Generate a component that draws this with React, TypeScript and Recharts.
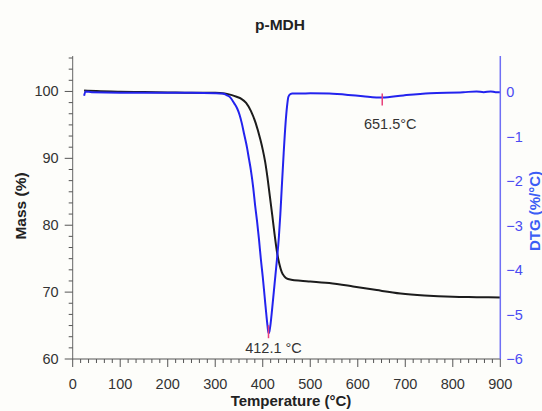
import { LineChart, Line, XAxis, YAxis, ReferenceDot } from 'recharts';

const massTemps = [24, 50, 100, 150, 200, 250, 300, 320, 335, 345, 355, 365, 375, 385, 395, 400, 405, 410, 415, 420, 425, 430, 435, 440, 445, 450, 460, 480, 500, 540, 590, 640, 690, 740, 800, 850, 900];
const massValues = [100.15, 100.05, 99.95, 99.9, 99.85, 99.8, 99.8, 99.7, 99.45, 99.2, 98.9, 98.3, 97.1, 95.3, 92.8, 91.3, 89.5, 87.1, 84.3, 81.5, 78.6, 76.0, 74.2, 73.0, 72.4, 72.05, 71.85, 71.7, 71.6, 71.35, 70.85, 70.3, 69.8, 69.5, 69.3, 69.25, 69.2];

const dtgTemps = [24, 27, 40, 100, 150, 200, 250, 300, 315, 325, 332, 340, 346, 351, 356, 361, 367, 371, 375, 380, 384, 388, 392, 396, 400, 404, 408, 410, 412.1, 414, 416, 420, 425, 430, 434, 437, 440, 444, 448, 451, 454, 458, 462, 480, 500, 540, 580, 611, 651.5, 696, 752, 822, 850, 865, 880, 890, 900];
const dtgValues = [-0.08, 0.02, 0.0, -0.01, -0.01, -0.01, -0.01, -0.02, -0.03, -0.07, -0.12, -0.25, -0.36, -0.5, -0.7, -0.95, -1.25, -1.5, -1.75, -2.15, -2.55, -2.9, -3.3, -3.75, -4.15, -4.6, -5.05, -5.25, -5.42, -5.38, -5.25, -4.85, -4.3, -3.75, -3.25, -2.75, -2.15, -1.38, -0.7, -0.33, -0.1, -0.04, -0.03, -0.03, -0.02, -0.03, -0.06, -0.09, -0.12, -0.07, -0.02, 0.0, 0.02, 0.0, 0.02, 0.0, 0.0];

const tempLabels = [0, 100, 200, 300, 400, 500, 600, 700, 800, 900];
const massLabels = [60, 70, 80, 90, 100];
const dtgLabels = [-6, -5, -4, -3, -2, -1, 0];

const peaks = [
  { t: 412.1, dtg: -5.42, label: '412.1 °C' },
  { t: 651.5, dtg: -0.12, label: '651.5°C' },
];
// #endregion

const massData = massTemps.map((t, i) => ({ t, mass: massValues[i] }));
const dtgData = dtgTemps.map((t, i) => ({ t, dtg: dtgValues[i] }));

// 5 minor ticks between each labelled tick
const tempTicks: number[] = [];
for (let i = 0; i <= 54; i++) tempTicks.push((i * 100) / 6);
const massTicks: number[] = [];
for (let i = 0; i <= 27; i++) massTicks.push(60 + (i * 10) / 6);

const FONT = '"Liberation Sans", Arial, sans-serif';
const BLUE = '#2323ee';
const AXIS_BLUE = '#6f6ff5';
const PINK = '#e8407a';

const isMajor = (v: number, step: number) => Math.abs(v / step - Math.round(v / step)) < 1e-6;

const TempTick = (props: any) => {
  const { x, y, payload } = props;
  const v = payload.value;
  const major = isMajor(v, 100) && tempLabels.includes(Math.round(v));
  return (
    <g>
      <line x1={x} x2={x} y1={y} y2={y + (major ? 8 : 4)} stroke="#555" />
      {major && (
        <text x={x} y={y + 29.5} textAnchor="middle" fontSize={14.5} fill="#333" fontFamily={FONT}>
          {Math.round(v)}
        </text>
      )}
    </g>
  );
};

const MassTick = (props: any) => {
  const { x, y, payload } = props;
  const v = payload.value;
  const major = isMajor(v, 10) && massLabels.includes(Math.round(v));
  return (
    <g>
      <line x1={x} x2={x - (major ? 8 : 4)} y1={y} y2={y} stroke="#555" />
      {major && (
        <text x={x - 14} y={y + 5} textAnchor="end" fontSize={14.5} fill="#333" fontFamily={FONT}>
          {Math.round(v)}
        </text>
      )}
    </g>
  );
};

const DtgTick = (props: any) => {
  const { x, y, payload } = props;
  const v = payload.value;
  return (
    <text x={x + 6} y={y + 5} textAnchor="start" fontSize={14.5} fill="#4b4bf2" fontFamily={FONT}>
      {v < 0 ? `\u2212${Math.abs(v)}` : v}
    </text>
  );
};

const peakShape = (label: string, up: number, down: number, dx: number, dy: number) => (props: any) => {
  const { cx, cy } = props;
  return (
    <g>
      <line x1={cx} x2={cx} y1={cy - up} y2={cy + down} stroke={PINK} strokeWidth={1.5} />
      <text x={cx + dx} y={cy + dy} textAnchor="middle" fontSize={14.5} fill="#333" fontFamily={FONT}>
        {label}
      </text>
    </g>
  );
};

export default function App() {
  return (
    <div style={{ position: 'absolute', left: 0, top: 0, width: 542, height: 411, background: '#fdfdfa' }}>
      <LineChart width={542} height={411} margin={{ top: 56, right: 0, bottom: 0, left: 0 }}>
        <XAxis
          xAxisId="t"
          type="number"
          dataKey="t"
          domain={[0, 900]}
          ticks={tempTicks}
          interval={0}
          tick={TempTick}
          tickLine={false}
          tickSize={0}
          tickMargin={0}
          height={52}
          axisLine={{ stroke: '#555' }}
          allowDataOverflow
        />
        <XAxis
          xAxisId="top"
          orientation="top"
          type="number"
          domain={[0, 900]}
          height={0}
          tick={false}
          tickLine={false}
          axisLine={{ stroke: '#9a9a9a' }}
        />
        <YAxis
          yAxisId="mass"
          type="number"
          domain={[60, 105.3]}
          ticks={massTicks}
          interval={0}
          tick={MassTick}
          tickLine={false}
          tickSize={0}
          tickMargin={0}
          width={72.7}
          axisLine={{ stroke: '#666' }}
          allowDataOverflow
        />
        <YAxis
          yAxisId="dtg"
          orientation="right"
          type="number"
          domain={[-6, 0.816]}
          ticks={dtgLabels}
          interval={0}
          tick={DtgTick}
          tickLine={false}
          tickSize={0}
          tickMargin={0}
          width={41.7}
          axisLine={{ stroke: AXIS_BLUE, strokeWidth: 1.5 }}
          allowDataOverflow
        />
        <Line
          xAxisId="t"
          yAxisId="mass"
          data={massData}
          dataKey="mass"
          type="monotone"
          stroke="#1c1c1c"
          strokeWidth={2}
          dot={false}
          isAnimationActive={false}
        />
        <Line
          xAxisId="t"
          yAxisId="dtg"
          data={dtgData}
          dataKey="dtg"
          type="monotone"
          stroke={BLUE}
          strokeWidth={2}
          dot={false}
          isAnimationActive={false}
        />
        <ReferenceDot
          xAxisId="t"
          yAxisId="dtg"
          x={peaks[0].t}
          y={peaks[0].dtg}
          shape={peakShape(peaks[0].label, 8, 5, 5, 20)}
        />
        <ReferenceDot
          xAxisId="t"
          yAxisId="dtg"
          x={peaks[1].t}
          y={peaks[1].dtg}
          shape={peakShape(peaks[1].label, 4, 8, 8, 31)}
        />
        <text x={280} y={30} textAnchor="middle" fontSize={15.5} fontWeight="bold" fill="#222" fontFamily={FONT}>
          p-MDH
        </text>
        <text
          x={26}
          y={206}
          transform="rotate(-90 26 206)"
          textAnchor="middle"
          fontSize={15.5}
          fontWeight="bold"
          fill="#222"
          fontFamily={FONT}
        >
          Mass (%)
        </text>
        <text
          x={540}
          y={211}
          transform="rotate(-90 540 211)"
          textAnchor="middle"
          fontSize={15}
          fontWeight="bold"
          fill="#3b5df5"
          fontFamily={FONT}
        >
          DTG (%/°C)
        </text>
        <text x={291} y={406} textAnchor="middle" fontSize={15} fontWeight="bold" fill="#222" fontFamily={FONT}>
          Temperature (°C)
        </text>
      </LineChart>
    </div>
  );
}
